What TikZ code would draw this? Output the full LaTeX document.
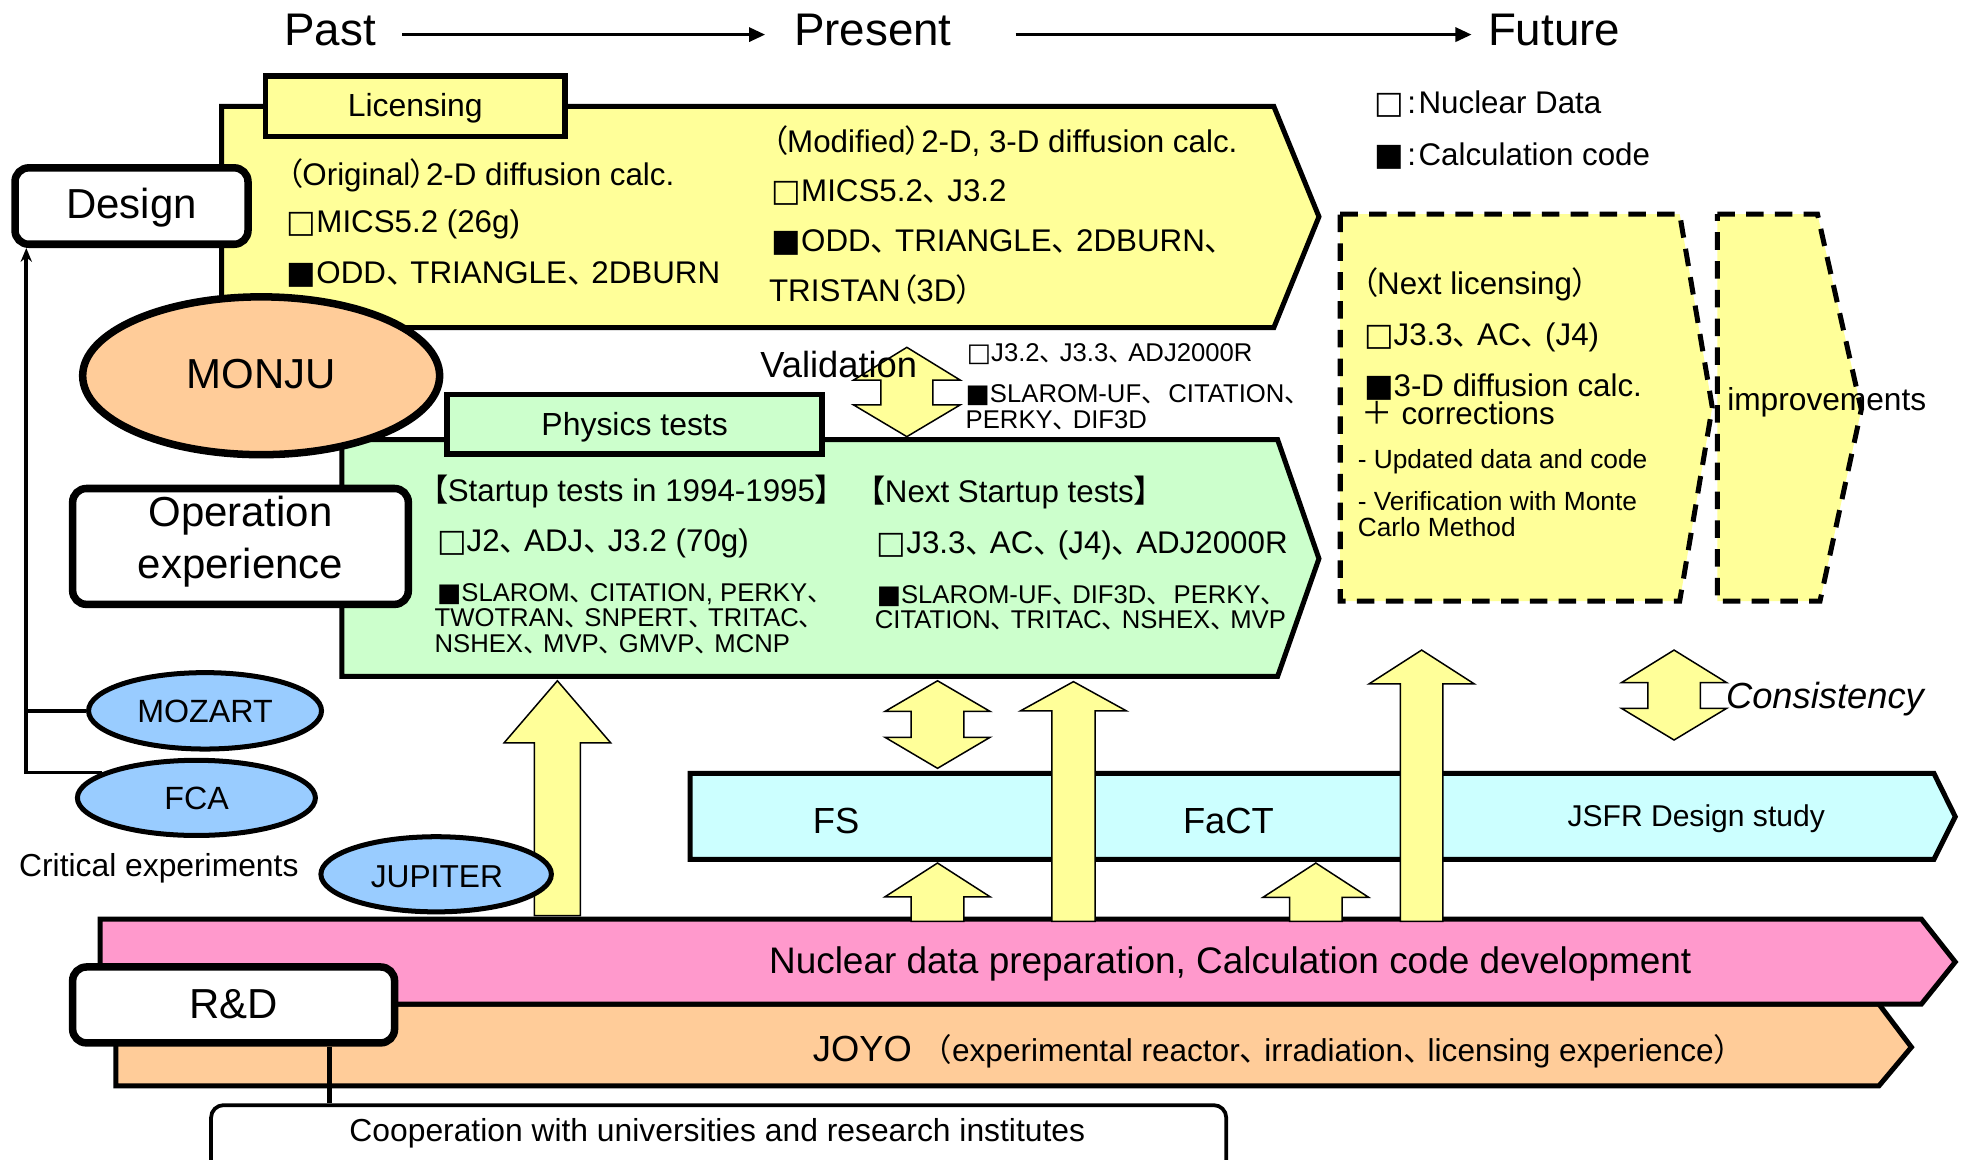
\documentclass[tikz,border=0pt]{standalone}
\usepackage{fontspec}
\setmainfont{Liberation Sans}
\newfontfamily\cjkfont{Noto Sans CJK JP}
\newfontfamily\cjkpfont[RawFeature=+palt]{Noto Sans CJK JP}
\newfontfamily\djvfont{DejaVu Sans}
\usetikzlibrary{shapes.geometric,arrows.meta}
\newcommand{\jten}{{\cjkfont 、}\kern-0.22em\relax}
\newcommand{\wsq}{{\djvfont □}}
\newcommand{\bsq}{{\djvfont ■}}
\newcommand{\jlb}{{\cjkpfont 【}}
\newcommand{\jrb}{{\cjkpfont 】}}
\newcommand{\jlp}{{\cjkfont （}}
\newcommand{\jrp}{{\cjkfont ）}}
\newcommand{\jplp}{{\cjkpfont （}}
\newcommand{\jprp}{{\cjkpfont ）}}
\newcommand{\jplus}{{\cjkfont ＋}}
\definecolor{yel}{HTML}{FFFF99}
\definecolor{greenf}{HTML}{CCFFCC}
\definecolor{cyanf}{HTML}{CCFFFF}
\definecolor{pinkf}{HTML}{FF99CC}
\definecolor{peachf}{HTML}{FFCC99}
\definecolor{skyb}{HTML}{99CCFF}
\newcommand{\upblk}[6]{%
  \draw[blk] ({#1-#5},#4) -- ({#1-#5},#3) -- ({#1-#6},#3) -- (#1,#2) -- ({#1+#6},#3) -- ({#1+#5},#3) -- ({#1+#5},#4) -- cycle;}
\newcommand{\dblblk}[7]{%
  \draw[blk] (#1,#2) -- ({#1+#7},#3) -- ({#1+#6},#3) -- ({#1+#6},#4) -- ({#1+#7},#4) -- (#1,#5) -- ({#1-#7},#4) -- ({#1-#6},#4) -- ({#1-#6},#3) -- ({#1-#7},#3) -- cycle;}
\begin{document}
\begin{tikzpicture}[x=1pt,y=-1pt,
  txt/.style={inner sep=0pt,outer sep=0pt,anchor=base west},
  ctxt/.style={inner sep=0pt,outer sep=0pt,anchor=base},
  fsz/.style={font=\fontsize{#1}{#1}\selectfont},
  fszi/.style={font=\fontsize{#1}{#1}\selectfont\itshape},
  bar/.style={draw=black,line width=4pt,line join=miter},
  tabbox/.style={draw=black,line width=4.5pt,rectangle,inner sep=0pt},
  rbox/.style={draw=black,fill=white,line width=6pt,rectangle,rounded corners=11pt,inner sep=0pt},
  bluell/.style={draw=black,fill=skyb,line width=4pt,ellipse,inner sep=0pt},
  blk/.style={draw=black,fill=yel,line width=1.2pt,line join=miter},
  dashbox/.style={draw=black,fill=yel,line width=4pt,dash pattern=on 14pt off 9pt},
  thinl/.style={draw=black,line width=3pt},
]
\useasboundingbox (0,0) rectangle (1568,926);
\fill[white] (0,0) rectangle (1568,926);
\begin{scope}
\clip (0,0) rectangle (1568,926);
% bars
\draw[bar,fill=peachf] (92.6,801.6) -- (1500,801.6) -- (1526,836) -- (1500,867) -- (92.6,867) -- cycle;
\draw[bar,fill=pinkf] (80,733.8) -- (1534,733.8) -- (1561,768) -- (1534,801.6) -- (80,801.6) -- cycle;
% yellow licensing box
\draw[bar,fill=yel] (177,85) -- (1017,85) -- (1053,173) -- (1017,261.5) -- (177,261.5) -- cycle;
\node[tabbox,fill=yel,minimum width=239pt,minimum height=48.5pt] (lictab) at (331.5,84.75) {};
% FS box
\draw[bar,fill=cyanf] (551,617.5) -- (1544,617.5) -- (1561,652) -- (1544,686) -- (551,686) -- cycle;
% block arrows
\dblblk{724}{277.3}{303.4}{323.3}{348.6}{20.7}{42.5}
\upblk{445}{543.5}{593}{731}{18.3}{42.5}
\dblblk{748.5}{543.5}{568}{588.6}{613.4}{21}{42}
\upblk{748.5}{689}{716}{735.5}{21}{42}
\upblk{857}{544.2}{567.6}{735.5}{17.3}{42.4}
\upblk{1050.5}{689}{716.4}{735.5}{21}{42.2}
\upblk{1135}{519}{546}{735.5}{17}{42}
\dblblk{1336.5}{519}{545}{565.5}{590.8}{21}{42}
% green physics box
\draw[bar,fill=greenf] (273,351) -- (1020,351) -- (1053,446) -- (1020,540) -- (273,540) -- cycle;
\node[tabbox,fill=greenf,minimum width=299.5pt,minimum height=47.5pt] (phytab) at (506.75,338.75) {};
% ellipses
\node[ellipse,draw=black,fill=peachf,line width=6pt,inner sep=0pt,minimum width=285pt,minimum height=126pt] (monju) at (208.5,300) {};
\node[bluell,minimum width=186pt,minimum height=61pt] (mozart) at (163.7,567.5) {};
\node[bluell,minimum width=190pt,minimum height=60pt] (fca) at (156.8,637) {};
\node[bluell,minimum width=184pt,minimum height=60pt] (jupiter) at (348.2,698) {};
% rounded boxes
\node[rbox,minimum width=186pt,minimum height=61pt] (design) at (105,164.5) {};
\node[rbox,minimum width=268pt,minimum height=92.5pt] (opbox) at (192,436.25) {};
\node[rbox,minimum width=257pt,minimum height=60.6pt] (rnd) at (186.5,802.3) {};
\node[draw=black,fill=white,line width=3pt,rectangle,rounded corners=10pt,inner sep=0pt,minimum width=810.5pt,minimum height=70pt] (coop) at (573.75,917.3) {};
% connectors
\coordinate (trunk) at (21,630);
\draw[thinl] (mozart.west) -- (mozart.west -| trunk);
\draw[thinl,-{Stealth[length=11pt,width=9pt]}] (fca.165) -| (design.south -| trunk);
\coordinate (rdl) at ([xshift=76.5pt]rnd.south);
\draw[line width=4pt] (rdl) -- (rdl |- coop.north);
% dashed future boxes
\draw[dashbox] (1070,171) -- (1341,171) -- (1367,325) -- (1341,480) -- (1070,480) -- cycle;
\draw[dashbox] (1371,171) -- (1451,171) -- (1486,327) -- (1453,480) -- (1371,480) -- cycle;
\end{scope}
% timeline
\node[txt,fsz=36.5] (past) at (227,36) {Past};
\node[txt,fsz=36.5] (present) at (634,36) {Present};
\node[txt,fsz=36.5] (future) at (1188,36) {Future};
\draw[line width=3pt,-{Triangle[length=13pt,width=11pt]}] ([xshift=21pt,yshift=-4pt]past.east) -- ([xshift=-23pt,yshift=-4pt]present.west);
\draw[line width=3pt,-{Triangle[length=13pt,width=11pt]}] ([xshift=51pt,yshift=-4pt]present.east) -- ([xshift=-13pt,yshift=-4pt]future.west);
% labels of boxes
\node[ctxt,fsz=25.5] (lblLic) at (331.5,93) {Licensing};
\node[ctxt,fsz=25.5] (lblPhy) at (506.7,347.3) {Physics tests};
\node[ctxt,fsz=33.5] (lblDesign) at (105,174.3) {Design};
\node[ctxt,fsz=33.5] (lblMonju) at (208.5,310) {MONJU};
\node[ctxt,fsz=33.5] (lblOp1) at (192,420.5) {Operation};
\node[ctxt,fsz=33.5] (lblOp2) at (192,461.7) {experience};
\node[ctxt,fsz=25.7] (lblMoz) at (163.7,577) {MOZART};
\node[ctxt,fsz=25.7] (lblFca) at (157,646) {FCA};
\node[ctxt,fsz=25.3] (lblJup) at (348.8,708.7) {JUPITER};
\node[ctxt,fsz=33.5] (lblRnd) at (186.5,813) {R\&D};
\node[txt,fsz=25.4] (lblCrit) at (15.3,700) {Critical experiments};
% yellow box text
\node[txt,fsz=25] (y1) at (229,148) {\jplp Original\jprp 2-D diffusion calc.};
\node[txt,fsz=25] (y2) at (229,186) {\wsq MICS5.2 (26g)};
\node[txt,fsz=25] (y3) at (229,226) {\bsq ODD\jten TRIANGLE\jten 2DBURN};
\node[txt,fsz=25] (y4) at (616,122) {\jplp Modified\jprp 2-D, 3-D diffusion calc.};
\node[txt,fsz=25] (y5) at (616,161) {\wsq MICS5.2\jten J3.2};
\node[txt,fsz=25] (y6) at (616,201) {\bsq ODD\jten TRIANGLE\jten 2DBURN\jten};
\node[txt,fsz=25] (y7) at (614,241) {TRISTAN\jplp 3D\jprp};
% legend
\node[txt,fsz=25] (leg1) at (1097,91) {\wsq\hspace{3pt}:\hspace{2pt}Nuclear Data};
\node[txt,fsz=25] (leg2) at (1097,132) {\bsq\hspace{3pt}:\hspace{2pt}Calculation code};
% future box text
\node[txt,fsz=25] (f1) at (1087,235.5) {\jplp Next licensing\jprp};
\node[txt,fsz=25] (f2) at (1089,276) {\wsq J3.3\jten AC\jten (J4)};
\node[txt,fsz=25] (f3) at (1089,316.7) {\bsq 3-D diffusion calc.};
\node[txt,fsz=25] (f4) at (1087,339.3) {\jplus{} corrections};
\node[txt,fsz=21] (f5) at (1084,374) {- Updated data and code};
\node[txt,fsz=21] (f6) at (1084,407.7) {- Verification with Monte};
\node[txt,fsz=21] (f7) at (1084,428.4) {Carlo Method};
\node[txt,fsz=25.3] (impr) at (1379,328) {improvements};
% validation
\node[txt,fsz=29] (valid) at (607,301) {Validation};
\node[txt,fsz=20.5] (v1) at (772,288.7) {\wsq J3.2\jten J3.3\jten ADJ2000R};
\node[txt,fsz=20.5] (v2) at (771,321.5) {\bsq SLAROM-UF\jten\ CITATION\jten};
\node[txt,fsz=20.5] (v3) at (771,342) {PERKY\jten DIF3D};
% green box text
\node[txt,fsz=25] (g1) at (345,400.5) {\jlb Startup tests in 1994-1995\jrb};
\node[txt,fsz=25] (g2) at (349,440.4) {\wsq J2\jten ADJ\jten J3.2 (70g)};
\node[txt,fsz=20.5] (g3) at (349,480.3) {\bsq SLAROM\jten CITATION, PERKY\jten};
\node[txt,fsz=20.5] (g4) at (347,500.3) {TWOTRAN\jten SNPERT\jten TRITAC\jten};
\node[txt,fsz=20.5] (g5) at (347,521) {NSHEX\jten MVP\jten GMVP\jten MCNP};
\node[txt,fsz=25] (g6) at (694,401.3) {\jlb Next Startup tests\jrb};
\node[txt,fsz=25] (g7) at (700,441.7) {\wsq J3.3\jten AC\jten (J4)\jten ADJ2000R};
\node[txt,fsz=20.5] (g8) at (700,481.7) {\bsq SLAROM-UF\jten DIF3D\jten\ PERKY\jten};
\node[txt,fsz=20.5] (g9) at (698.5,501.6) {CITATION\jten TRITAC\jten NSHEX\jten MVP};
% consistency
\node[txt,fszi=29] (cons) at (1378,565.5) {Consistency};
% FS bar text
\node[txt,fsz=29] (fs) at (649,665.8) {FS};
\node[txt,fsz=29] (fact) at (944.5,665.8) {FaCT};
\node[txt,fsz=24] (jsfr) at (1251.5,660) {JSFR Design study};
% pink bar
\node[txt,fsz=29.5] (nuc) at (614,777) {Nuclear data preparation, Calculation code development};
% joyo
\node[txt] (joyo) at (649,847.6) {{\fontsize{29}{29}\selectfont JOYO}\hspace{7pt}{\fontsize{25.2}{25.2}\selectfont\jlp experimental reactor\jten irradiation\jten licensing experience\jrp}};
% cooperation
\node[txt,fsz=25.4] (cooptxt) at (279,911.4) {Cooperation with universities and research institutes};
\end{tikzpicture}
\end{document}
